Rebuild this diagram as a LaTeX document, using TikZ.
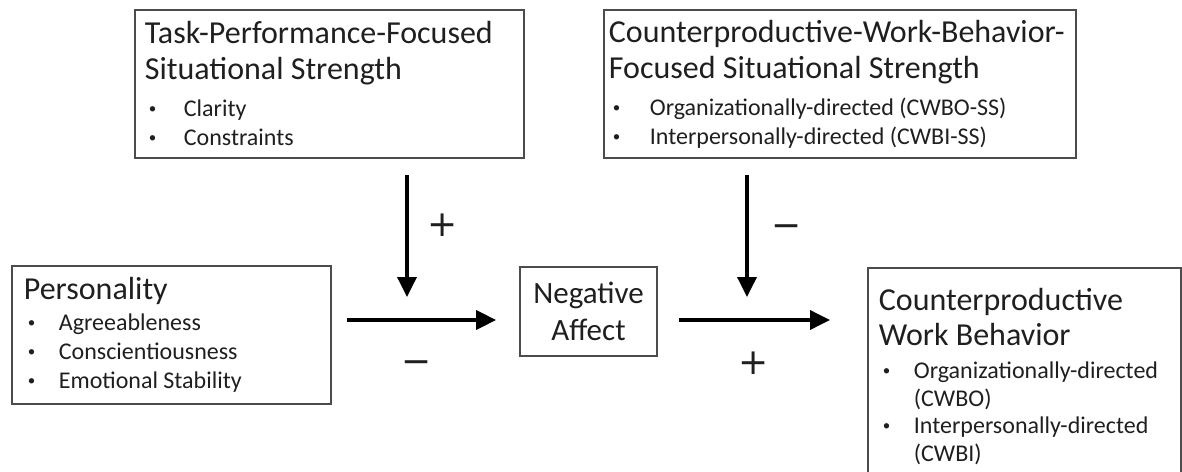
\documentclass[tikz,border=0pt]{standalone}
\usepackage{fontspec}
\setmainfont{Carlito}
\newfontfamily\signfont{DejaVu Sans}
\usetikzlibrary{arrows.meta}

% text sizes inside the boxes (natural word spaces)
\newcommand{\ttl}{\fontsize{32}{36}\selectfont\spaceskip=0pt\xspaceskip=0pt}
\newcommand{\itm}[1]{\fontsize{24}{#1}\selectfont\spaceskip=0pt\xspaceskip=0pt}
% bullet item: #1 = offset of the item text from the left margin
\newcommand{\bul}[2][36pt]{\makebox[#1][l]{\hspace*{4pt}\raisebox{3pt}{\fontsize{15}{15}\selectfont\textbullet}}#2}

\begin{document}
\begin{tikzpicture}[x=1pt,y=-1pt,
  box/.style={draw=black!70,line width=1.8pt,align=left,inner ysep=0pt,
    anchor=north west,text=black!88},
  arr/.style={line width=3.6pt,-{Triangle[length=20pt,width=19pt]}},
  sign/.style={font=\signfont\fontsize{36}{36}\selectfont,text=black!88,inner sep=0pt}]
  % canvas 1182 x 471, y runs downwards
  \useasboundingbox (0,0) rectangle (1182,471);

  % moderator boxes (top row)
  \node[box,text width=369pt,inner xsep=10pt,minimum height=148pt] (task) at (134,9)
    {{\ttl\mbox{Task-Performance-Focused}\\\mbox{Situational Strength}\par}%
     \vspace{8pt}{\itm{29}\bul[39pt]{Clarity}\\\bul[39pt]{Constraints}\par}};
  \node[box,text width=462pt,inner xsep=5pt,minimum height=148pt] (ss) at (603,9)
    {{\ttl\mbox{Counterproductive-Work-Behavior-}\\\mbox{Focused Situational Strength}\par}%
     \vspace{8pt}{\itm{29}\bul[41pt]{Organizationally-directed (CWBO-SS)}\\%
     \bul[41pt]{Interpersonally-directed (CWBI-SS)}\par}};

  % main chain (bottom row)
  \node[box,text width=295pt,inner xsep=12pt,minimum height=138pt] (pers) at (11,265)
    {{\ttl Personality\par}%
     \vspace{2pt}{\itm{29}\bul[35pt]{Agreeableness}\\\bul[35pt]{Conscientiousness}\\%
     \bul[35pt]{Emotional Stability}\par}};
  \node[box,anchor=center,align=center,inner sep=0pt,minimum width=137pt,minimum height=89pt,
    font=\fontsize{31}{37}\selectfont] (na) at (588.5,311.5) {Negative\\Affect};
  % runs past the lower edge of the page
  \node[box,text width=291pt,inner xsep=11pt,minimum height=214pt] (cwb) at (867,267)
    {{\fontsize{32}{35}\selectfont\spaceskip=0pt\rule{0pt}{25pt}Counterproductive\\Work Behavior\par}%
     \vspace{6pt}{\itm{27.5}\bul[35pt]{\mbox{Organizationally-directed}}\\%
     \hspace*{35pt}(CWBO)\\\bul[35pt]{\mbox{Interpersonally-directed}}\\\hspace*{35pt}(CWBI)\par}};

  % points where the moderators meet the paths
  \coordinate (m1) at (407,320);
  \coordinate (m2) at (747,320);

  % paths
  \draw[arr,shorten <=15pt,shorten >=23pt] (pers.east |- m1) -- (na.west |- m1);
  \draw[arr,shorten <=21pt,shorten >=37pt] (na.east |- m2) -- (cwb.west |- m2);
  % moderating arrows
  \draw[arr,shorten <=16pt,shorten >=23pt] (task.south -| m1) -- (m1);
  \draw[arr,shorten <=16pt,shorten >=23pt] (ss.south -| m2) -- (m2);

  % signs
  \node[sign] (plus1) at (443,225) {+};
  \node[sign] (minus1) at (787,231) {−};
  \node[sign] (minus2) at (417,367) {−};
  \node[sign] (plus2) at (754,363) {+};
\end{tikzpicture}
\end{document}
